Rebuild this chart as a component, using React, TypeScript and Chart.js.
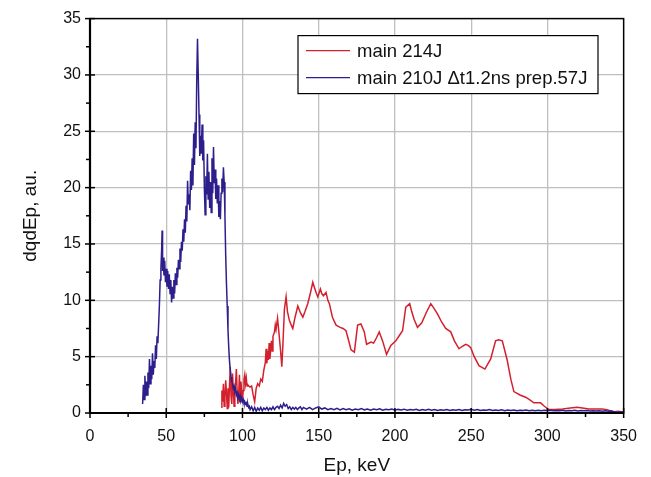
import React, { useEffect, useRef } from "react";
import { Chart, registerables } from "chart.js";

Chart.register(...registerables);

const xAxisTitle = "Ep, keV";
const yAxisTitle = "dqdEp, au.";
const seriesLabels = ["main 214J", "main 210J \u0394t1.2ns prep.57J"];
const seriesColors = ["#d4202c", "#2c1f8c"];

// red series: main 214J
const redEnergy = [
  86, 86.5, 87, 87.5, 88, 88.5, 89, 89.5, 90, 90.5, 91, 91.5, 92, 92.5, 93, 93.5, 94, 94.5, 95, 95.5,
  96, 96.5, 97, 97.5, 98, 98.5, 99, 99.5, 100, 100.5, 101, 101.5, 102, 102.5, 103, 103.5, 104, 105, 106, 107,
  108, 109, 110, 111, 112, 113, 114, 115, 115.5, 116, 116.5, 117, 117.5, 118, 119, 119.5, 120, 121, 121.5, 122,
  123, 124, 125, 125.8, 126.5, 127.5, 128.6, 129.5, 130.8, 132, 133, 134.5, 136.3, 138, 139.6, 141, 142.8, 144.5, 146.1, 147.5,
  148.5, 149.4, 151.1, 152, 153.1, 154.8, 156, 157, 159, 161.4, 164, 166, 167.9, 169.5, 171.2, 173.4, 175.5, 177.7, 179.9, 181.4,
  184.3, 186, 188, 189.7, 191.9, 194.5, 197.3, 200.6, 203, 205, 207.1, 209.7, 211, 212.6, 214.8, 217.6, 220.5, 223.5, 225.5, 227.9,
  230.5, 233.3, 236.6, 239, 242, 244, 246.4, 248, 249.7, 252, 255.1, 259, 262.8, 266, 268, 270.4, 273.6, 276, 278, 282,
  285.7, 288, 291.1, 295.5, 298, 300.9, 305, 310, 315, 319.5, 323, 327, 331, 335.8, 339, 343.5, 346, 350,
];
const redValues = [
  0.5, 2.0, 1.0, 2.6, 0.6, 1.5, 2.9, 1.8, 0.4, 2.2, 0.5, 2.5, 4.1, 1.5, 0.8, 3.5, 2.0, 0.6, 1.8, 2.8,
  3.9, 2.0, 0.8, 1.6, 3.4, 1.0, 2.8, 1.9, 1.2, 2.0, 3.0, 3.4, 2.6, 3.1, 2.4, 2.5, 2.4, 2.3, 2.4, 1.6,
  1.0, 2.2, 2.6, 2.4, 3.0, 2.8, 3.8, 4.5, 5.7, 4.4, 5.5, 4.7, 6.2, 4.8, 6.4, 5.5, 6.8, 7.2, 7.8, 7.4,
  8.4, 7.0, 5.5, 4.1, 6.0, 9.2, 10.3, 9.0, 8.2, 7.8, 7.5, 8.5, 9.5, 8.9, 8.5, 9.0, 9.7, 10.6, 11.6, 11.0,
  10.6, 10.3, 11.0, 10.6, 10.4, 10.7, 10.0, 9.7, 8.5, 7.8, 7.6, 7.5, 7.3, 6.5, 5.6, 5.4, 7.8, 7.9, 7.2, 6.1,
  6.3, 6.2, 6.7, 7.2, 6.4, 5.2, 6.0, 6.4, 6.9, 7.3, 9.4, 9.7, 9.0, 8.3, 7.6, 8.0, 8.9, 9.7, 9.3, 8.8,
  8.1, 7.5, 7.2, 6.4, 5.7, 5.9, 6.1, 6.0, 5.8, 5.0, 4.2, 3.9, 4.8, 6.4, 6.5, 6.4, 4.7, 3.0, 1.9, 1.6,
  1.4, 1.2, 0.9, 0.9, 0.6, 0.3, 0.3, 0.35, 0.45, 0.5, 0.45, 0.35, 0.35, 0.35, 0.3, 0.1, 0.15, 0.1,
];

// blue series: main 210J dt1.2ns prep.57J
const blueEnergy = [
  34.5, 35, 35.5, 36, 36.5, 37, 37.5, 38, 38.5, 39, 39.5, 40, 40.5, 41, 41.5, 42, 42.5, 43, 43.5, 44,
  44.5, 45, 45.5, 46, 46.5, 47, 47.3, 47.6, 48, 48.5, 49, 49.5, 50, 50.5, 51, 51.5, 52, 52.5, 53, 53.5,
  54, 54.5, 55, 55.5, 56, 56.5, 57, 57.5, 58, 58.5, 59, 59.5, 60, 60.5, 61, 61.5, 62, 62.5, 63, 63.5,
  64, 64.5, 65, 65.5, 66, 66.5, 67, 67.5, 68, 68.5, 69, 69.5, 70, 70.5, 71, 71.5, 72, 72.5, 73, 73.5,
  74, 74.5, 75, 75.5, 76, 76.5, 77, 77.5, 78, 78.5, 79, 79.5, 80, 80.5, 81, 81.5, 82, 82.5, 83, 83.5,
  84, 84.5, 85, 85.5, 86, 86.5, 87, 87.5, 88, 88.5, 89, 89.5, 90, 90.5, 91, 91.5, 92, 92.5, 93, 93.5,
  94, 94.5, 95, 95.5, 96, 96.5, 97, 97.5, 98, 98.5, 99, 99.5, 100, 100.5, 101, 101.5, 102, 102.5, 103, 103.5,
  104, 104.5, 105, 106, 107, 108, 109, 110, 111, 112, 113, 114, 115, 116, 117, 118, 119, 120, 121, 122,
  123, 124, 125, 126, 127, 128, 129, 130, 131, 132, 133, 134, 135, 136, 137, 138, 139, 140, 142, 144,
  146, 148, 150, 152, 154, 156, 158, 160, 162, 164, 166, 168, 170, 172, 174, 176, 178, 180, 182, 184,
  186, 188, 190, 192, 194, 196, 198, 200, 202, 204, 206, 208, 210, 212, 214, 216, 218, 220, 222, 224,
  226, 228, 230, 232, 234, 236, 238, 240, 242, 244, 246, 248, 250, 252, 254, 256, 258, 260, 262, 264,
  266, 268, 270, 272, 274, 276, 278, 280, 282, 284, 286, 288, 290, 292, 294, 296, 298, 300, 302, 304,
  306, 308, 310, 312, 314, 316, 318, 320, 322, 324, 326, 328, 330, 332, 334, 336, 338, 340, 342, 344,
  346, 348, 350,
];
const blueValues = [
  0.8, 2.5, 1.2, 3.3, 1.5, 2.8, 1.6, 3.6, 2.2, 4.8, 2.6, 4.2, 3.0, 5.3, 3.4, 4.6, 4.0, 6.0, 4.8, 6.8,
  6.2, 7.8, 9.5, 11.8, 12.8, 14.5, 16.2, 12.6, 13.8, 12.2, 13.5, 11.6, 12.8, 11.2, 12.6, 11.0, 12.3, 10.6, 11.8, 9.8,
  11.2, 10.2, 11.8, 10.6, 12.4, 11.4, 12.9, 12.0, 13.6, 12.8, 14.6, 13.4, 15.2, 14.4, 16.3, 15.2, 17.2, 16.0, 18.4, 17.0,
  20.6, 18.5, 19.4, 18.0, 21.5, 19.8, 22.6, 20.2, 24.8, 22.0, 25.8, 23.5, 29.5, 33.2, 30.0, 26.5, 22.8, 24.6, 23.0, 25.6,
  22.4, 24.2, 20.0, 17.6, 21.0, 19.4, 23.0, 19.0, 21.4, 18.2, 20.5, 17.8, 22.6, 19.5, 23.6, 20.4, 21.6, 19.0, 20.8, 18.6,
  20.2, 17.4, 18.8, 17.2, 19.5, 20.8, 19.6, 21.8, 20.5, 17.5, 14.0, 11.5, 9.5, 7.4, 5.8, 4.6, 3.8, 3.2, 2.8, 2.5,
  2.2, 2.4, 1.9, 2.1, 1.6, 1.8, 1.4, 1.6, 1.2, 1.5, 1.1, 1.3, 1.0, 1.2, 0.9, 1.0, 0.8, 0.9, 0.6, 0.8,
  0.5, 0.6, 0.3, 0.55, 0.2, 0.5, 0.15, 0.45, 0.25, 0.5, 0.2, 0.45, 0.3, 0.5, 0.25, 0.45, 0.3, 0.55, 0.3, 0.5,
  0.6, 0.4, 0.7, 0.45, 0.85, 0.6, 0.75, 0.4, 0.55, 0.3, 0.5, 0.35, 0.5, 0.3, 0.45, 0.55, 0.3, 0.5, 0.35, 0.5,
  0.3, 0.45, 0.55, 0.35, 0.45, 0.3, 0.4, 0.3, 0.42, 0.28, 0.4, 0.3, 0.38, 0.25, 0.36, 0.3, 0.4, 0.28, 0.35, 0.25,
  0.35, 0.3, 0.38, 0.25, 0.33, 0.28, 0.35, 0.25, 0.32, 0.26, 0.34, 0.24, 0.3, 0.26, 0.33, 0.22, 0.3, 0.25, 0.32, 0.24,
  0.3, 0.22, 0.28, 0.25, 0.3, 0.22, 0.28, 0.24, 0.3, 0.22, 0.28, 0.26, 0.33, 0.24, 0.3, 0.22, 0.27, 0.24, 0.3, 0.22,
  0.26, 0.23, 0.28, 0.2, 0.26, 0.22, 0.27, 0.2, 0.25, 0.22, 0.26, 0.2, 0.24, 0.21, 0.25, 0.2, 0.24, 0.22, 0.25, 0.19,
  0.23, 0.2, 0.24, 0.18, 0.22, 0.2, 0.24, 0.18, 0.22, 0.19, 0.23, 0.18, 0.21, 0.17, 0.2, 0.16, 0.2, 0.15, 0.18, 0.12,
  0.05, 0.1, 0.05,
];

const xRange = [0, 350];
const xStep = 50;
const yRange = [0, 35];
const yStep = 5;

const FONT = "'Liberation Sans', Arial, sans-serif";

const frameLegendPlugin = {
  id: "frameLegend",
  afterDraw(chart: any) {
    const { ctx, chartArea } = chart;
    const { left, right, top, bottom } = chartArea;
    const xs = chart.scales.x;
    const ys = chart.scales.y;
    ctx.save();
    ctx.strokeStyle = "#000";
    // ticks
    ctx.lineWidth = 1.5;
    const xt = xs.ticks.map((t: any) => t.value);
    for (let i = 0; i < xt.length; i++) {
      const px = xs.getPixelForValue(xt[i]);
      ctx.beginPath();
      ctx.moveTo(px, bottom + 5);
      ctx.lineTo(px, bottom - 5);
      ctx.stroke();
      if (i < xt.length - 1) {
        const pm = xs.getPixelForValue((xt[i] + xt[i + 1]) / 2);
        ctx.beginPath();
        ctx.moveTo(pm, bottom + 4);
        ctx.lineTo(pm, bottom);
        ctx.stroke();
      }
    }
    const yt = ys.ticks.map((t: any) => t.value);
    for (let i = 0; i < yt.length; i++) {
      const py = ys.getPixelForValue(yt[i]);
      ctx.beginPath();
      ctx.moveTo(left - 5, py);
      ctx.lineTo(left + 5, py);
      ctx.stroke();
      if (i < yt.length - 1) {
        const pm = ys.getPixelForValue((yt[i] + yt[i + 1]) / 2);
        ctx.beginPath();
        ctx.moveTo(left - 4, pm);
        ctx.lineTo(left, pm);
        ctx.stroke();
      }
    }
    // frame
    ctx.lineWidth = 1.5;
    ctx.strokeRect(left, top, right - left, bottom - top);
    ctx.lineWidth = 2.2;
    ctx.beginPath();
    ctx.moveTo(left, top);
    ctx.lineTo(left, bottom);
    ctx.lineTo(right, bottom);
    ctx.stroke();

    // legend
    const bx = left + 208;
    const by = top + 17;
    const bw = 300;
    const bh = 58;
    ctx.fillStyle = "#fff";
    ctx.fillRect(bx, by, bw, bh);
    ctx.lineWidth = 1.2;
    ctx.strokeStyle = "#000";
    ctx.strokeRect(bx, by, bw, bh);
    ctx.font = "18.5px " + FONT;
    ctx.textBaseline = "middle";
    ctx.textAlign = "left";
    chart.data.datasets.forEach((ds: any, i: number) => {
      const ly = by + 15 + i * 27;
      ctx.strokeStyle = ds.borderColor;
      ctx.lineWidth = 1.3;
      ctx.beginPath();
      ctx.moveTo(bx + 8, ly);
      ctx.lineTo(bx + 52, ly);
      ctx.stroke();
      ctx.fillStyle = "#111";
      ctx.fillText(ds.label, bx + 59, ly + 1);
    });
    ctx.restore();
  },
};

export default function App() {
  const ref = useRef<HTMLCanvasElement>(null);
  useEffect(() => {
    document.body.style.margin = "0";
    const canvas = ref.current;
    if (!canvas) return;
    const gridColor = (c: any) =>
      c.tick && (c.tick.value === c.scale.min || c.tick.value === c.scale.max)
        ? "rgba(0,0,0,0)"
        : "#bfbfbf";
    const chart = new Chart(canvas, {
      type: "line",
      data: {
        datasets: [
          {
            label: seriesLabels[0],
            data: redEnergy.map((e, i) => ({ x: e, y: redValues[i] })),
            borderColor: seriesColors[0],
            borderWidth: 1.5,
            pointRadius: 0,
            fill: false,
            tension: 0,
            order: 1,
          },
          {
            label: seriesLabels[1],
            data: blueEnergy.map((e, i) => ({ x: e, y: blueValues[i] })),
            borderColor: seriesColors[1],
            borderWidth: 1.5,
            pointRadius: 0,
            fill: false,
            tension: 0,
            order: 0,
          },
        ],
      },
      options: {
        animation: false,
        responsive: false,
        layout: { padding: { top: 16, right: 26, left: 0, bottom: 0 } },
        plugins: { legend: { display: false }, tooltip: { enabled: false } },
        scales: {
          x: {
            type: "linear",
            min: xRange[0],
            max: xRange[1],
            afterFit: (s: any) => {
              s.height = 64;
            },
            ticks: {
              stepSize: xStep,
              color: "#111",
              font: { family: FONT, size: 16 },
              padding: 14,
              maxRotation: 0,
            },
            grid: { color: gridColor, lineWidth: 1.3, drawTicks: false },
            border: { display: false },
            title: {
              display: true,
              text: xAxisTitle,
              color: "#111",
              font: { family: FONT, size: 19 },
              padding: { top: 0, bottom: 0 },
            },
          },
          y: {
            type: "linear",
            min: yRange[0],
            max: yRange[1],
            afterFit: (s: any) => {
              s.width = 90;
            },
            ticks: {
              stepSize: yStep,
              color: "#111",
              font: { family: FONT, size: 16 },
              padding: 9,
            },
            grid: { color: gridColor, lineWidth: 1.3, drawTicks: false },
            border: { display: false },
            title: {
              display: true,
              text: yAxisTitle,
              color: "#111",
              font: { family: FONT, size: 19 },
              padding: { top: 19, bottom: 0 },
            },
          },
        },
      },
      plugins: [frameLegendPlugin],
    });
    return () => chart.destroy();
  }, []);
  return <canvas ref={ref} width={651} height={477} style={{ display: "block" }} />;
}
